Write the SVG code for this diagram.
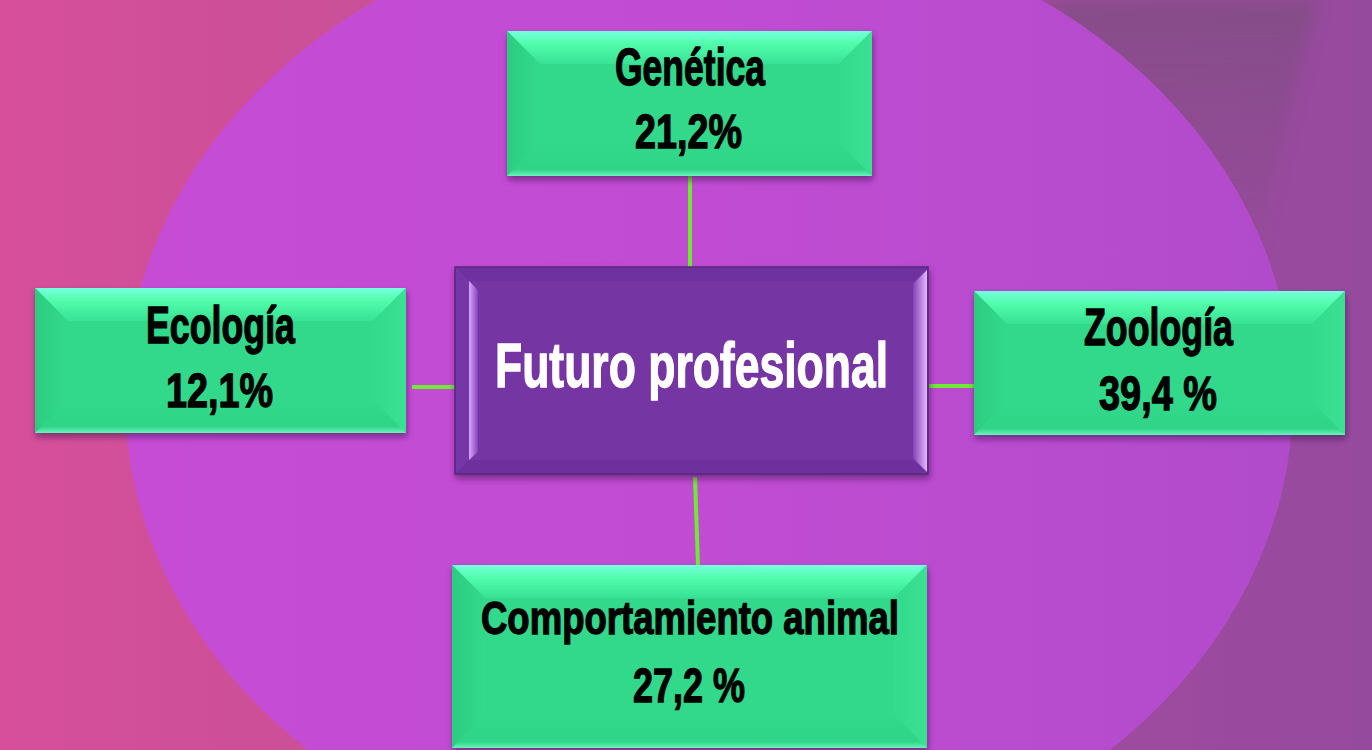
<svg xmlns="http://www.w3.org/2000/svg" width="1372" height="750" viewBox="0 0 1372 750">
<defs>
<linearGradient id="bg" x1="0" y1="0" x2="1" y2="0">
<stop offset="0" stop-color="#d74f9b"/>
<stop offset="0.3" stop-color="#c75097"/>
<stop offset="0.75" stop-color="#a04b9f"/>
<stop offset="1" stop-color="#964a9e"/>
</linearGradient>
<linearGradient id="ell" x1="0" y1="0" x2="1" y2="0">
<stop offset="0" stop-color="#c64cd5"/>
<stop offset="0.5" stop-color="#c14cd3"/>
<stop offset="1" stop-color="#b14bcb"/>
</linearGradient>
<linearGradient id="gTop" x1="0" y1="0" x2="0" y2="1">
<stop offset="0" stop-color="#76ffdd"/>
<stop offset="0.4" stop-color="#50fcaa"/>
<stop offset="1" stop-color="#38e194"/>
</linearGradient>
<linearGradient id="gLeft" x1="0" y1="0" x2="1" y2="0">
<stop offset="0" stop-color="#2ccc80"/>
<stop offset="1" stop-color="#33da8b"/>
</linearGradient>
<linearGradient id="gRight" x1="0" y1="0" x2="1" y2="0">
<stop offset="0" stop-color="#33da8b"/>
<stop offset="1" stop-color="#3ae193"/>
</linearGradient>
<linearGradient id="gBot" x1="0" y1="0" x2="0" y2="1">
<stop offset="0" stop-color="#32d98b"/>
<stop offset="0.8" stop-color="#2fd487"/>
<stop offset="1" stop-color="#66f4bb"/>
</linearGradient>
<linearGradient id="pL" x1="0" y1="0" x2="1" y2="0">
<stop offset="0" stop-color="#d7a6ff"/>
<stop offset="1" stop-color="#8644b6"/>
</linearGradient>
<linearGradient id="pR" x1="0" y1="0" x2="1" y2="0">
<stop offset="0" stop-color="#8442b4"/>
<stop offset="1" stop-color="#e4b6ff"/>
</linearGradient>
<linearGradient id="band" x1="0" y1="0" x2="0" y2="1">
<stop offset="0" stop-color="#7c4d7e" stop-opacity="0.7"/>
<stop offset="1" stop-color="#7c4d7e" stop-opacity="0"/>
</linearGradient>
<filter id="sh" x="-10%" y="-10%" width="120%" height="130%">
<feDropShadow dx="1" dy="4" stdDeviation="3" flood-color="#3a0f4a" flood-opacity="0.55"/>
</filter>
<filter id="blur" x="-50%" y="-50%" width="200%" height="200%">
<feGaussianBlur stdDeviation="8"/>
</filter>
<style>
.top{fill:url(#gTop)}
.left{fill:url(#gLeft)}
.right{fill:url(#gRight)}
.bot{fill:url(#gBot)}
.base{fill:#32d98b}
.lbl{font-family:"Liberation Sans Narrow","Liberation Sans",Arial,sans-serif;font-weight:bold;fill:#000;stroke:#000;stroke-width:1.3}
.wht{font-family:"Liberation Sans Narrow","Liberation Sans",Arial,sans-serif;font-weight:bold;fill:#fff;stroke:#fff;stroke-width:1.3}
.conn{stroke:#6eea33;stroke-width:4;fill:none}
</style>
</defs>

<g id="background">
<rect x="0" y="0" width="1372" height="750" fill="url(#bg)"/>
<path d="M1040,0 L1318,0 C1296,80 1270,180 1252,300 C1200,180 1130,80 1040,0 Z" fill="url(#band)" filter="url(#blur)"/>
<ellipse cx="709" cy="398" rx="584" ry="484" fill="url(#ell)"/>
</g>

<g id="connectors">
<line class="conn" x1="690" y1="176" x2="690" y2="271"/>
<line class="conn" x1="695" y1="477" x2="698" y2="566"/>
<line class="conn" x1="412" y1="387" x2="460" y2="387"/>
<line class="conn" x1="929" y1="386" x2="978" y2="386"/>
</g>

<g id="node-genetica">
<rect class="base" x="507" y="31" width="365" height="145" filter="url(#sh)"/>
<polygon class="top" points="507,31 872,31 839,64 540,64"/>
<polygon class="left" points="507,31 540,64 540,143 507,176"/>
<polygon class="right" points="872,31 872,176 839,143 839,64"/>
<polygon class="bot" points="507,176 540,143 839,143 872,176"/>
<rect x="540" y="64" width="299" height="79" fill="#32d98b" opacity="0.5"/>
<text class="lbl" x="615" y="85" font-size="52" textLength="150" lengthAdjust="spacingAndGlyphs">Genética</text>
<text class="lbl" x="635" y="148" font-size="49" textLength="107" lengthAdjust="spacingAndGlyphs">21,2%</text>
</g>

<g id="node-ecologia">
<rect class="base" x="35" y="288" width="371" height="145" filter="url(#sh)"/>
<polygon class="top" points="35,288 406,288 373,321 68,321"/>
<polygon class="left" points="35,288 68,321 68,400 35,433"/>
<polygon class="right" points="406,288 406,433 373,400 373,321"/>
<polygon class="bot" points="35,433 68,400 373,400 406,433"/>
<rect x="68" y="321" width="305" height="79" fill="#32d98b" opacity="0.5"/>
<text class="lbl" x="146" y="343" font-size="52" textLength="149" lengthAdjust="spacingAndGlyphs">Ecología</text>
<text class="lbl" x="166" y="407" font-size="49" textLength="107" lengthAdjust="spacingAndGlyphs">12,1%</text>
</g>

<g id="node-zoologia">
<rect class="base" x="974" y="291" width="371" height="144" filter="url(#sh)"/>
<polygon class="top" points="974,291 1345,291 1312,324 1007,324"/>
<polygon class="left" points="974,291 1007,324 1007,402 974,435"/>
<polygon class="right" points="1345,291 1345,435 1312,402 1312,324"/>
<polygon class="bot" points="974,435 1007,402 1312,402 1345,435"/>
<rect x="1007" y="324" width="305" height="78" fill="#32d98b" opacity="0.5"/>
<text class="lbl" x="1084" y="345" font-size="52" textLength="149" lengthAdjust="spacingAndGlyphs">Zoología</text>
<text class="lbl" x="1099" y="410" font-size="49" textLength="118" lengthAdjust="spacingAndGlyphs">39,4 %</text>
</g>

<g id="node-comportamiento">
<rect class="base" x="452" y="565" width="475" height="183" filter="url(#sh)"/>
<polygon class="top" points="452,565 927,565 894,598 485,598"/>
<polygon class="left" points="452,565 485,598 485,715 452,748"/>
<polygon class="right" points="927,565 927,748 894,715 894,598"/>
<polygon class="bot" points="452,748 485,715 894,715 927,748"/>
<rect x="485" y="598" width="409" height="117" fill="#32d98b" opacity="0.5"/>
<text class="lbl" x="481" y="634" font-size="46" textLength="418" lengthAdjust="spacingAndGlyphs">Comportamiento animal</text>
<text class="lbl" x="633" y="702" font-size="49" textLength="112" lengthAdjust="spacingAndGlyphs">27,2 %</text>
</g>

<g id="node-futuro">
<rect x="455" y="267" width="473" height="207" fill="#7434a3" stroke="#55267e" stroke-width="1.5" filter="url(#sh)"/>
<polygon points="456,268 927,268 913,281 469,281" fill="#6f31a0"/>
<polygon points="456,268 469,281 469,460 456,473" fill="#7637a6"/>
<polygon points="456,473 469,460 913,460 927,473" fill="#6e309d"/>
<polygon points="469,281 478,290 478,452 469,460" fill="url(#pL)"/>
<polygon points="913,284 927,270 927,472 913,458" fill="url(#pR)"/>
<text class="wht" x="495" y="387" font-size="63" textLength="393" lengthAdjust="spacingAndGlyphs">Futuro profesional</text>
</g>
</svg>
